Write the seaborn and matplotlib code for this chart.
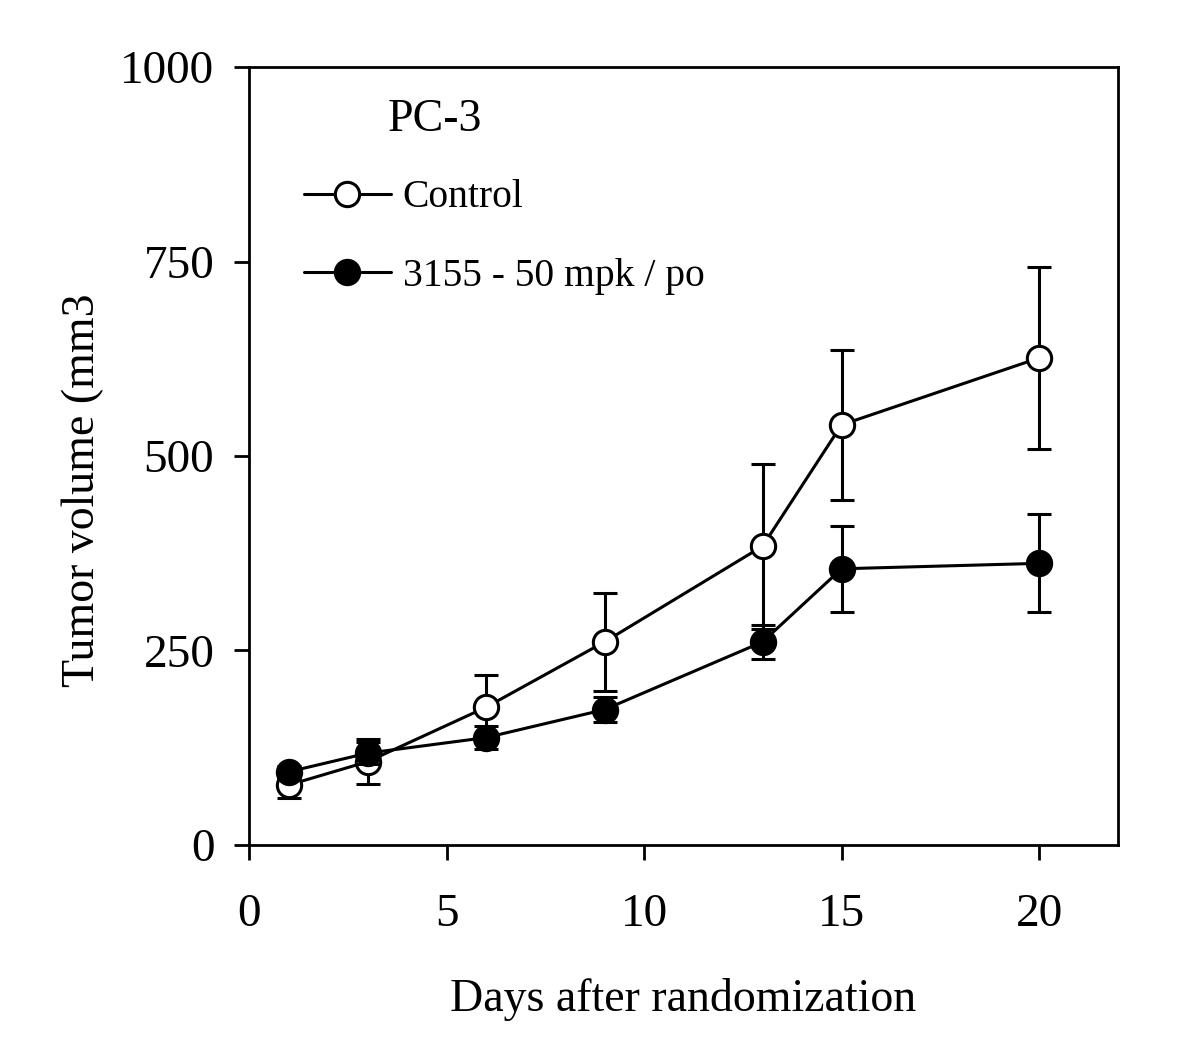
import matplotlib
matplotlib.use('Agg')
import matplotlib.pyplot as plt
import seaborn as sns
import pandas as pd

# data
days = [1, 3, 6, 9, 13, 15, 20]
control = [77, 107, 177, 261, 384, 540, 626]
control_err = [17, 29, 41, 63, 106, 96, 117]
treated = [94, 118, 138, 174, 261, 355, 362]
treated_err = [8, 14, 15, 16, 22, 55, 63]
labels = ['Control', '3155 - 50 mpk / po']

sns.set_style('ticks')
plt.rcParams['font.family'] = ['Liberation Serif', 'DejaVu Serif']
plt.rcParams['text.color'] = 'black'
plt.rcParams['axes.labelcolor'] = 'black'

fig = plt.figure(figsize=(12, 10.57), dpi=100)
ax = fig.add_axes([0.2075, 0.2006, 0.7242, 0.736])

df = pd.DataFrame({
    'day': days * 2,
    'vol': control + treated,
    'group': [labels[0]] * len(days) + [labels[1]] * len(days),
})

lw = 2.2
# error bars first, then lines and markers on top
ax.errorbar(days, control, yerr=control_err, fmt='none', ecolor='black',
            elinewidth=lw, capsize=8.3, capthick=lw, zorder=2)
ax.errorbar(days, treated, yerr=treated_err, fmt='none', ecolor='black',
            elinewidth=lw, capsize=8.3, capthick=lw, zorder=4)

sns.lineplot(data=df[df.group == labels[0]], x='day', y='vol', ax=ax,
             color='black', linewidth=lw, marker='o', markersize=17.5,
             markerfacecolor='white', markeredgecolor='black',
             markeredgewidth=lw, label=labels[0], zorder=3)
sns.lineplot(data=df[df.group == labels[1]], x='day', y='vol', ax=ax,
             color='black', linewidth=lw, marker='o', markersize=17.5,
             markerfacecolor='black', markeredgecolor='black',
             markeredgewidth=lw, label=labels[1], zorder=5)

ax.set_xlim(0, 22)
ax.set_ylim(0, 1000)
ax.set_xticks([0, 5, 10, 15, 20])
ax.set_yticks([0, 250, 500, 750, 1000])
ax.tick_params(axis='both', direction='out', length=11, width=2,
               labelsize=34, colors='black')
ax.tick_params(axis='x', pad=24)
ax.tick_params(axis='y', pad=14)
for s in ax.spines.values():
    s.set_linewidth(2)
    s.set_color('black')

ax.set_xlabel('Days after randomization', fontsize=33, labelpad=30)
ax.set_ylabel('Tumor volume (mm3', fontsize=33)
ax.yaxis.set_label_coords(-0.167, 0.456)

ax.text(0.16, 0.932, 'PC-3', transform=ax.transAxes, fontsize=33,
        va='center', ha='left')
leg = ax.legend(loc='upper left', bbox_to_anchor=(0.04, 0.881), frameon=False,
                fontsize=28.5, handlelength=2.2, handletextpad=0.3,
                labelspacing=1.05, borderpad=0)

fig.savefig('out.png', dpi=100, facecolor='white')
